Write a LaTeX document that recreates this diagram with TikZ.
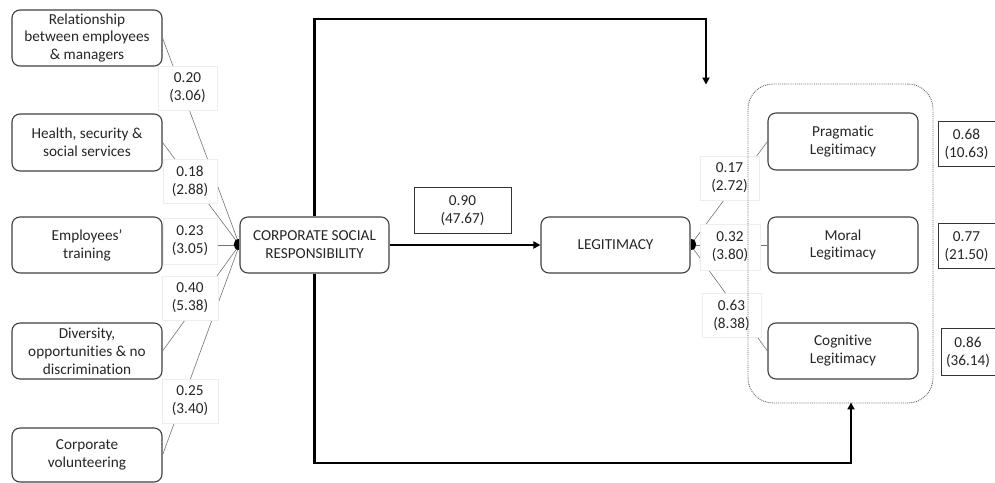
\documentclass[tikz,border=0pt]{standalone}
\usepackage{fontspec}
\setmainfont[Ligatures=NoCommon,Contextuals=NoAlternate]{Carlito}
\usetikzlibrary{arrows.meta,calc}
\begin{document}
\begin{tikzpicture}[x=1bp,y=-1bp,
  font=\fontsize{15.3}{18}\selectfont,
  box/.style={draw=black!75,line width=1.1bp,rounded corners=8bp,fill=white,align=center,inner sep=0pt,text=black!85},
  lab/.style={draw=black!7,line width=0.6bp,fill=white,align=center,inner sep=0pt,text=black!85},
  val/.style={draw=black!80,line width=1bp,fill=white,align=center,inner sep=0pt,text=black!85},
  thinline/.style={draw=black!55,line width=0.6bp},
  thickarrow/.style={draw=black,line width=2.6bp,-{Triangle[length=7bp,width=7bp]}},
  cont/.style={draw=black!60,densely dotted,line width=0.9bp,rounded corners=25bp,inner sep=0pt}]
\useasboundingbox (0,0) rectangle (995,483);
% left boxes
\node[box,minimum width=150bp,minimum height=56bp] (b1) at (87,38) {Relationship\\between employees\\\& managers};
\node[box,minimum width=150bp,minimum height=57bp] (b2) at (87,142.5) {Health, security \&\\social services};
\node[box,minimum width=150bp,minimum height=56bp] (b3) at (87,245) {Employees'\\training};
\node[box,minimum width=150bp,minimum height=56bp] (b4) at (87,351) {Diversity,\\opportunities \& no\\discrimination};
\node[box,minimum width=150bp,minimum height=54bp] (b5) at (87,455) {Corporate\\volunteering};
% main boxes
\node[box,minimum width=149bp,minimum height=56bp] (csr) at (314.5,245) {CORPORATE SOCIAL\\RESPONSIBILITY};
\node[box,minimum width=149bp,minimum height=56bp] (leg) at (615.5,245) {LEGITIMACY};
\node[box,minimum width=150bp,minimum height=57bp] (prag) at (843,141.5) {Pragmatic\\Legitimacy};
\node[box,minimum width=150bp,minimum height=56bp] (moral) at (843,245) {Moral\\Legitimacy};
\node[box,minimum width=150bp,minimum height=56bp] (cog) at (843,351) {Cognitive\\Legitimacy};
% thin connectors
\draw[thinline] (b1.east) -- (csr.west);
\draw[thinline] (b2.east) -- (csr.west);
\draw[thinline] (b3.east) -- (csr.west);
\draw[thinline] (b4.east) -- (csr.west);
\draw[thinline] (b5.east) -- (csr.west);
\draw[thinline] (leg.east) -- (prag.west);
\draw[thinline] (leg.east) -- (moral.west);
\draw[thinline] (leg.east) -- (cog.west);
% dots
\fill[black] ($(csr.west)+(0,-5.5)$) .. controls +(-7,0) and +(-7,0) .. ($(csr.west)+(0,5.5)$) -- cycle;
\fill[black] ($(leg.east)+(0,-5.5)$) .. controls +(7,0) and +(7,0) .. ($(leg.east)+(0,5.5)$) -- cycle;
% labels
\node[lab,minimum width=59bp,minimum height=44bp] (l1) at (187.5,88) {0.20\\(3.06)};
\node[lab,minimum width=54bp,minimum height=44bp] (l2) at (190,181) {0.18\\(2.88)};
\node[lab,minimum width=54bp,minimum height=46bp] (l3) at (190,241) {0.23\\(3.05)};
\node[lab,minimum width=56bp,minimum height=44bp] (l4) at (190,298) {0.40\\(5.38)};
\node[lab,minimum width=56bp,minimum height=44bp] (l5) at (190,401) {0.25\\(3.40)};
\node[lab,minimum width=59bp,minimum height=44bp] (l6) at (729.5,178) {0.17\\(2.72)};
\node[lab,minimum width=60bp,minimum height=46bp] (l7) at (730,247) {0.32\\(3.80)};
\node[lab,minimum width=59bp,minimum height=44bp] (l8) at (731.5,315) {0.63\\(8.38)};
% container
\node[cont,minimum width=185bp,minimum height=319bp] (box) at (840.5,243.5) {};
% value boxes
\node[val,minimum width=97bp,minimum height=46bp] (v0) at (462.5,211) {0.90\\(47.67)};
\node[val,minimum width=57bp,minimum height=45bp] (v1) at (966.5,144.5) {0.68\\(10.63)};
\node[val,minimum width=57bp,minimum height=45bp] (v2) at (966.5,246.5) {0.77\\(21.50)};
\node[val,minimum width=54bp,minimum height=46bp] (v3) at (968,352) {0.86\\(36.14)};
% thick connectors
\draw[thickarrow] (csr.east) -- (leg.west);
\coordinate (t) at (706,19);
\coordinate (bt) at (851,463);
\draw[thickarrow,shorten >=-1bp] (csr.north) |- (t) -- (t |- box.north);
\draw[thickarrow,shorten >=-1bp] (csr.south) |- (bt) -- (bt |- box.south);
\end{tikzpicture}
\end{document}
